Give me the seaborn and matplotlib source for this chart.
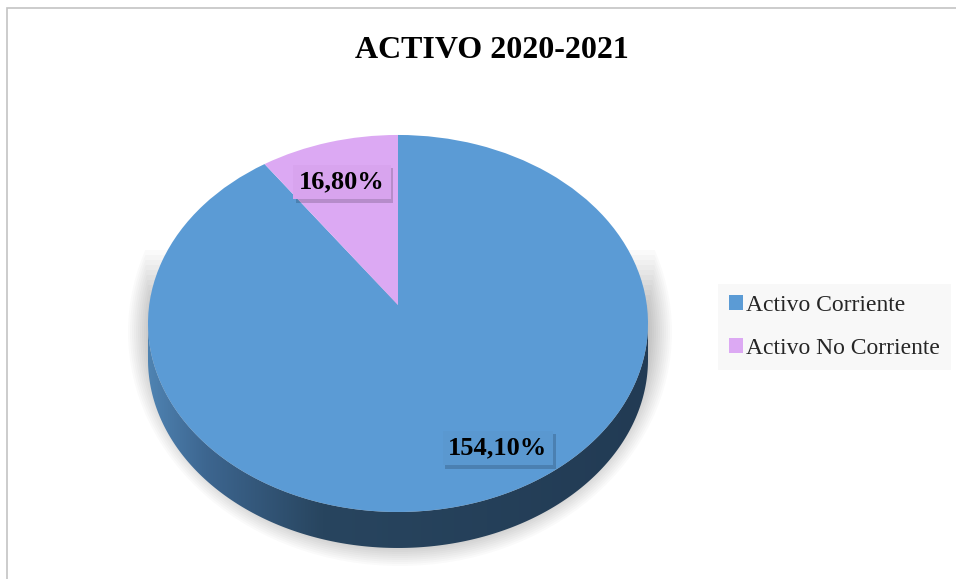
import numpy as np
import matplotlib
matplotlib.use("Agg")
import matplotlib.pyplot as plt
import matplotlib.patheffects as pe
import seaborn as sns
from matplotlib.patches import Polygon, Rectangle, Ellipse, Patch
from matplotlib.transforms import Transform
from matplotlib.colors import LinearSegmentedColormap

categories = ["Activo Corriente", "Activo No Corriente"]
values = [154.10, 16.80]
colors = ["#5b9bd5", "#dca9f3"]
title = "ACTIVO 2020-2021"

sns.set_theme(style="white")
plt.rcParams["font.family"] = ["Liberation Serif", "DejaVu Serif"]

W, H = 956, 579
K = 0.098          # perspective strength
CX, CY = 398, 305  # pie centre in pixels
SX, SY = 248.8, 186.7
DEPTH = 36 / SY


class Tilt(Transform):
    """flat disk (x, z) -> tilted view"""
    input_dims = output_dims = 2

    def transform_non_affine(self, v):
        v = np.asarray(v, dtype=float)
        d = 1 + K * v[:, 1]
        return np.column_stack([v[:, 0] / d, v[:, 1] / d])


def px(x, y):
    return (x - CX) / SX, (CY - y) / SY


fig = plt.figure(figsize=(9.56, 5.79), dpi=100)
ax = fig.add_axes([0, 0, 1, 1])

# outer chart border (left / top visible)
fig.add_artist(Rectangle((7 / W, -0.1), 1.2, (H - 8) / H + 0.1, transform=fig.transFigure,
                         fill=False, edgecolor="#c4c4c4", linewidth=1.2))

fig.text(492 / W, 1 - 50 / H, title, ha="center", va="center", fontsize=23, fontweight="bold",
         color="black")

# soft shadow, fading in towards the top
sc = px(400, 332)
for k in range(12):
    e = Ellipse(sc, 2 * (250 + 2 * k) / SX, 2 * (212 + 2 * k) / SY, facecolor="black",
                edgecolor="none", alpha=0.02, zorder=0)
    ax.add_patch(e)
    e.set_clip_path(Rectangle(px(0, 250 + 5 * (11 - k)), 5, -5, transform=ax.transData))

# side of the pie
tilt = Tilt()
a = np.arcsin(K)
t = np.linspace(np.pi + a, 2 * np.pi - a, 300)
rim = tilt.transform(np.column_stack([np.cos(t), np.sin(t)]))
low = rim[::-1] - [0, DEPTH]
side = Polygon(np.vstack([rim, low]), closed=True, facecolor="none", edgecolor="none", zorder=1)
ax.add_patch(side)
cmap = LinearSegmentedColormap.from_list(
    "side", [(0, "#5085b4"), (0.12, "#3d6690"), (0.35, "#28455f"), (1, "#223b54")])
im = ax.imshow(np.linspace(0, 1, 256).reshape(1, -1), extent=[-1.02, 1.02, -1.4, 0.1],
               aspect="auto", cmap=cmap, zorder=1)
im.set_clip_path(side)

wedges, _ = ax.pie(values, colors=colors, startangle=90, counterclock=False, radius=1,
                   wedgeprops=dict(linewidth=0, zorder=2))
for w in wedges:
    w.set_transform(tilt + ax.transData)
ax.set_aspect("auto")
ax.set_xlim(px(0, 0)[0], px(W, 0)[0])
ax.set_ylim(px(0, H)[1], px(0, 0)[1])
ax.axis("off")

labels = [f"{v:.2f}".replace(".", ",") + "%" for v in values]
label_pos = [px(498, 448), px(342, 182)]
box_cols = ["#5a98d0", "#d8a4ee"]
for lab, (x, y), c in zip(labels, label_pos, box_cols):
    txt = ax.text(x, y, lab, ha="center", va="center", fontsize=19, fontweight="bold",
                  color="black", zorder=5,
                  bbox=dict(boxstyle="square,pad=0.22", facecolor=c, edgecolor="none"))
    txt.get_bbox_patch().set_path_effects(
        [pe.SimplePatchShadow(offset=(2, -2.5), shadow_rgbFace="black", alpha=0.17), pe.Normal()])

handles = [Patch(facecolor=c, edgecolor="none") for c in colors]
leg = fig.legend(handles, categories, loc="upper left", bbox_to_anchor=(718 / W, 1 - 284 / H),
                 frameon=True, fontsize=17, handlelength=0.6, handleheight=0.6, handletextpad=0.15,
                 borderpad=0.45, labelspacing=0.95, fancybox=False, borderaxespad=0)
leg.get_frame().set_facecolor("#f7f7f7")
leg.get_frame().set_edgecolor("none")

fig.savefig("out.png", dpi=100)
